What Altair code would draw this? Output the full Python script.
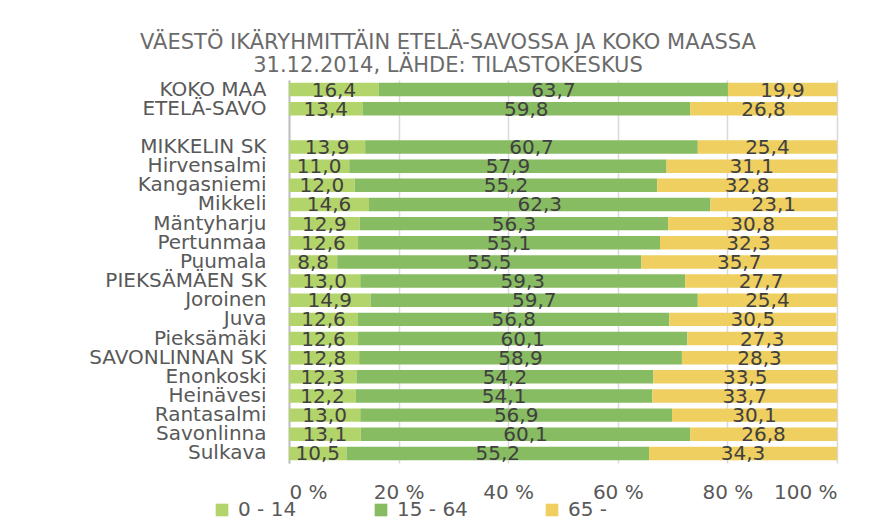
import altair as alt
import pandas as pd

categories = ["KOKO MAA", "ETELÄ-SAVO", " ", "MIKKELIN SK", "Hirvensalmi", "Kangasniemi",
              "Mikkeli", "Mäntyharju", "Pertunmaa", "Puumala", "PIEKSÄMÄEN SK", "Joroinen",
              "Juva", "Pieksämäki", "SAVONLINNAN SK", "Enonkoski", "Heinävesi", "Rantasalmi",
              "Savonlinna", "Sulkava"]
areas = [c for c in categories if c.strip()]
groups = ["0 - 14", "15 - 64", "65 -"]
age_0_14 = [16.4, 13.4, 13.9, 11.0, 12.0, 14.6, 12.9, 12.6, 8.8, 13.0, 14.9, 12.6, 12.6, 12.8,
            12.3, 12.2, 13.0, 13.1, 10.5]
age_15_64 = [63.7, 59.8, 60.7, 57.9, 55.2, 62.3, 56.3, 55.1, 55.5, 59.3, 59.7, 56.8, 60.1, 58.9,
             54.2, 54.1, 56.9, 60.1, 55.2]
age_65 = [19.9, 26.8, 25.4, 31.1, 32.8, 23.1, 30.8, 32.3, 35.7, 27.7, 25.4, 30.5, 27.3, 28.3,
          33.5, 33.7, 30.1, 26.8, 34.3]
x_ticks = [0, 20, 40, 60, 80, 100]
colors = ["#B3D46A", "#87BC62", "#EECF5F"]

rows = []
for i, a in enumerate(areas):
    for k, vals in enumerate([age_0_14, age_15_64, age_65]):
        rows.append({"area": a, "group": groups[k], "order": k, "value": vals[i]})
df = pd.DataFrame(rows)

FONT = "DejaVu Sans"

base = alt.Chart(df).transform_stack(
    stack="value", groupby=["area"], as_=["start", "end"],
    sort=[alt.SortField("order", order="ascending")]
).transform_calculate(
    mid="(datum.start + datum.end) / 2",
    label="replace(format(datum.value, '.1f'), '.', ',')"
)

yscale = alt.Scale(domain=categories, paddingInner=0.3, paddingOuter=0.15)
xscale = alt.Scale(domain=[0, 100], nice=False)

bars = base.mark_bar().encode(
    x=alt.X("start:Q", scale=xscale,
            axis=alt.Axis(values=x_ticks, labelExpr="datum.value + ' %'", title=None,
                          grid=True, gridColor="#D9D9D9", gridWidth=1.5, domain=False,
                          ticks=False, labelFont=FONT, labelFontSize=20, labelColor="#595959",
                          labelPadding=19)),
    x2="end:Q",
    y=alt.Y("area:N", scale=yscale,
            axis=alt.Axis(title=None, domain=True, domainColor="#BFBFBF", domainWidth=2,
                          ticks=False, labelFont=FONT, labelFontSize=20, labelColor="#595959",
                          labelPadding=23, labelLimit=300)),
    color=alt.Color("group:N", scale=alt.Scale(domain=groups, range=colors),
                    legend=alt.Legend(title=None, orient="none", legendX=-77, legendY=420,
                                      direction="horizontal", symbolType="square",
                                      symbolSize=160, symbolStrokeWidth=0, labelFont=FONT,
                                      labelFontSize=20, labelColor="#595959", labelOffset=6,
                                      columnPadding=74, padding=0)),
)

text = base.mark_text(font=FONT, fontSize=20, color="#404040", baseline="middle",
                      align="center", dy=1).encode(
    x=alt.X("mid:Q", scale=xscale),
    y=alt.Y("area:N", scale=yscale),
    text="label:N",
)

chart = alt.layer(bars, text).properties(
    width=548, height=383,
    autosize=alt.AutoSizeParams(type="none"),
    padding={"left": 281, "top": 72, "right": 31, "bottom": 57},
    title=alt.TitleParams(
        text=["VÄESTÖ IKÄRYHMITTÄIN ETELÄ-SAVOSSA JA KOKO MAASSA",
              "31.12.2014, LÄHDE: TILASTOKESKUS"],
        anchor="middle", dx=-115, font=FONT, fontSize=21, fontWeight="normal",
        color="#6B6B6B", lineHeight=23, offset=3),
).configure_view(stroke=None)

chart.save("out.html", embed_options={"renderer": "svg", "actions": False})
